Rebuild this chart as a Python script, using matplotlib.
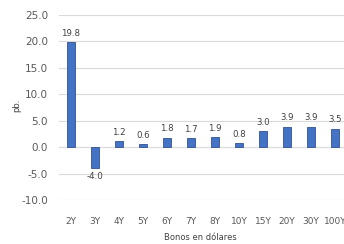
import matplotlib
matplotlib.use("Agg")
import matplotlib.pyplot as plt

categories = ["2Y", "3Y", "4Y", "5Y", "6Y", "7Y", "8Y", "10Y", "15Y", "20Y", "30Y", "100Y"]
values = [19.8, -4.0, 1.2, 0.6, 1.8, 1.7, 1.9, 0.8, 3.0, 3.9, 3.9, 3.5]
yticks = [-10, -5, 0, 5, 10, 15, 20, 25]

W, H = 344, 244
fig = plt.figure(figsize=(W / 100, H / 100), dpi=100)
left, right, top, bottom = 59, 344, 15, 200
ax = fig.add_axes([left / W, 1 - bottom / H, (right - left) / W, (bottom - top) / H])

x = range(len(categories))
ax.bar(x, values, width=0.33, color="#4472C4", edgecolor="#2F528F", linewidth=0.6, zorder=3)
for i, v in enumerate(values):
    off = 3 if v >= 0 else -3
    ax.annotate(f"{v:.1f}", (i, v), xytext=(0, off), textcoords="offset points",
                ha="center", va="bottom" if v >= 0 else "top", fontsize=6.2, color="#404040")

ax.set_ylim(-10, 25)
ax.set_xlim(-0.5, 11.5 - 3 / 24)
ax.set_yticks(yticks)
ax.set_yticklabels([f"{t:.1f}" for t in yticks])
ax.set_xticks(list(x))
ax.set_xticklabels(categories)
ax.tick_params(axis="both", length=0, labelcolor="#595959")
ax.tick_params(axis="y", pad=8, labelsize=7.5)
ax.tick_params(axis="x", pad=12, labelsize=6.5)
ax.grid(axis="y", color="#D9D9D9", linewidth=0.8, zorder=0)
for s in ax.spines.values():
    s.set_visible(False)

fig.text(17 / W, 1 - 105 / H, "pb.", rotation=90, ha="center", va="center",
         fontsize=6, color="#404040")
fig.text(200 / W, 1 - 237 / H, "Bonos en dólares", ha="center", va="center",
         fontsize=6, color="#404040")

fig.savefig("out.png", dpi=100)
